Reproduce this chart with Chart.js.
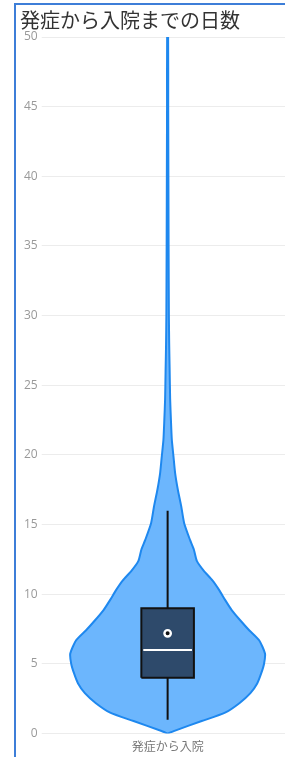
<!DOCTYPE html>
<html>
<head>
<meta charset="utf-8">
<script src="https://cdn.jsdelivr.net/npm/chart.js@4"></script>
<style>
  body { margin: 0; overflow: hidden; background: #fff; }
  .frame { position: absolute; left: 14px; top: 3px; width: 400px; height: 900px; border: 2px solid #3d7ed8; }
  #violin { position: absolute; left: 17px; top: 6px; }
</style>
</head>
<body>
<div class="frame"></div>
<canvas id="violin" width="276" height="754"></canvas>
<script>
// DATA
var category = "発症から入院";
var titleText = "発症から入院までの日数";

// violin outline: days and relative density (1 = widest point)
var violinDays = [0, 0.2, 0.9, 1.5, 2.2, 2.9, 3.6, 4.3, 5.0, 5.75, 6.7, 7.4, 8.1, 8.85, 9.6, 10.3, 11.0, 11.7, 12.4, 13.2, 13.9, 15.1, 16.3, 17.5, 18.7, 19.9, 21.1, 22.5, 24, 26, 28, 30, 35, 40, 45, 50];
var violinDensity = [0, 0.07, 0.35, 0.59, 0.74, 0.85, 0.92, 0.96, 0.99, 1.0, 0.94, 0.84, 0.75, 0.66, 0.59, 0.53, 0.46, 0.37, 0.30, 0.27, 0.23, 0.17, 0.14, 0.105, 0.077, 0.06, 0.043, 0.034, 0.026, 0.021, 0.016, 0.013, 0.01, 0.008, 0.006, 0.005];

// box plot stats
var whiskerLow = 1;
var q1 = 4;
var median = 6;
var q3 = 9;
var whiskerHigh = 16;
var mean = 7.2;

var yTicks = [0, 5, 10, 15, 20, 25, 30, 35, 40, 45, 50];

var boxHalf = 0.27;

// build violin polygon: right side up, left side down
var violinPts = [];
for (var i = 0; i < violinDays.length; i++) {
  violinPts.push({ x: violinDensity[i], y: violinDays[i] });
}
for (var j = violinDays.length - 1; j >= 0; j--) {
  violinPts.push({ x: -violinDensity[j], y: violinDays[j] });
}

var boxPts = [
  { x: -boxHalf, y: q1 }, { x: boxHalf, y: q1 },
  { x: boxHalf, y: q3 }, { x: -boxHalf, y: q3 },
  { x: -boxHalf, y: q1 }
];

var ctx = document.getElementById("violin");
var myChart = new Chart(ctx, {
  type: 'scatter',
  data: {
    datasets: [
      {
        // mean marker
        type: 'scatter',
        data: [{ x: 0, y: mean }],
        pointRadius: 3.2,
        pointBorderWidth: 2.4,
        pointBackgroundColor: '#111',
        pointBorderColor: '#fff',
        order: 0
      },
      {
        type: 'line',
        data: [{ x: -boxHalf + 0.02, y: median }, { x: boxHalf - 0.02, y: median }],
        borderColor: '#fff',
        borderWidth: 2,
        pointRadius: 0,
        order: 1
      },
      {
        type: 'line',
        data: boxPts,
        borderColor: '#111',
        backgroundColor: '#2e4a6b',
        borderWidth: 2,
        fill: 'shape',
        pointRadius: 0,
        tension: 0,
        order: 2
      },
      {
        type: 'line',
        data: [{ x: 0, y: whiskerLow }, { x: 0, y: whiskerHigh }],
        borderColor: '#111',
        borderWidth: 2,
        pointRadius: 0,
        order: 3
      },
      {
        type: 'line',
        data: violinPts,
        borderColor: '#1e88ef',
        backgroundColor: '#6cb6fd',
        borderWidth: 2,
        fill: 'shape',
        pointRadius: 0,
        tension: 0.2,
        order: 4
      }
    ]
  },
  options: {
    responsive: false,
    animation: false,
    layout: { padding: { left: 3, top: 2, right: 0, bottom: 0 } },
    plugins: {
      legend: { display: false },
      tooltip: { enabled: false },
      title: {
        display: true,
        text: titleText,
        align: 'start',
        color: '#333',
        font: { family: '"Noto Sans CJK JP"', size: 20, weight: 'normal' },
        padding: { top: 0, bottom: 5 }
      }
    },
    scales: {
      x: {
        type: 'linear',
        min: -1.211,
        max: 1.222,
        grid: { display: false, drawTicks: false },
        border: { display: false },
        afterBuildTicks: function(axis) {
          axis.ticks = [{ value: 0 }];
        },
        ticks: {
          padding: 6,
          color: '#777',
          font: { family: '"Noto Sans CJK JP"', size: 12 },
          callback: function() { return category; }
        }
      },
      y: {
        min: 0,
        max: 50,
        grid: { color: '#ececec', tickLength: 8 },
        border: { display: false },
        afterBuildTicks: function(axis) {
          axis.ticks = yTicks.map(function(v) { return { value: v }; });
        },
        ticks: {
          padding: 4,
          color: '#999',
          font: { family: '"Open Sans"', size: 12 }
        }
      }
    }
  }
});
</script>
</body>
</html>
